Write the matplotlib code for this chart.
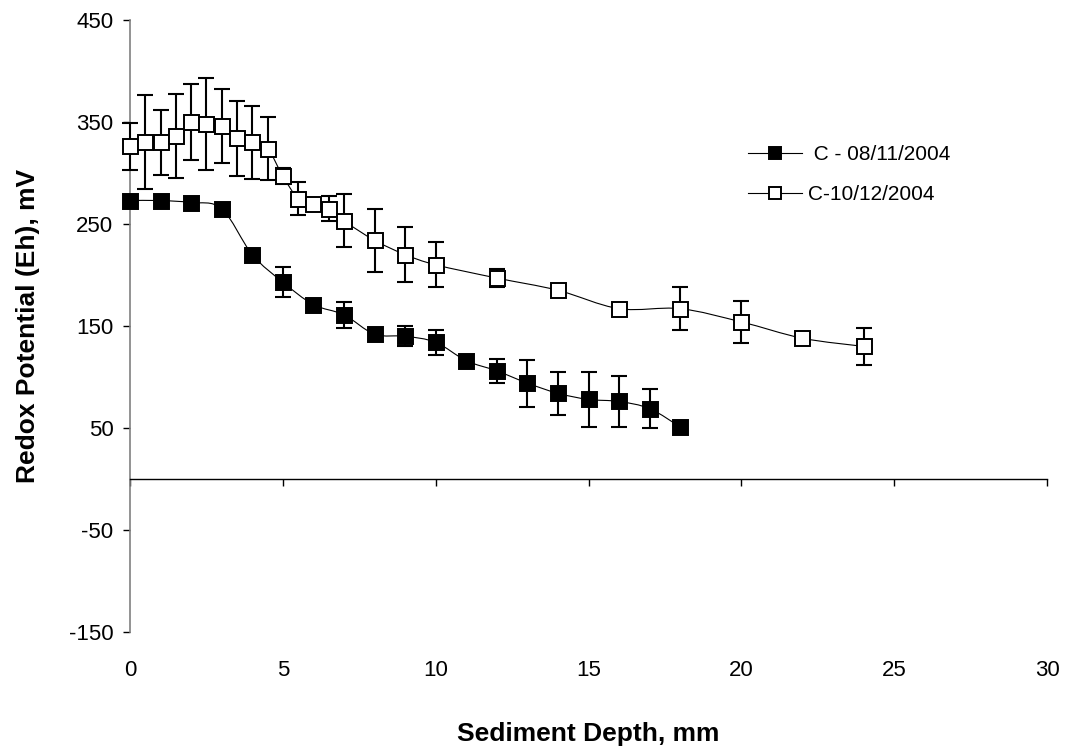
import numpy as np
import matplotlib
matplotlib.use('Agg')
import matplotlib.pyplot as plt
from matplotlib.path import Path
from matplotlib.patches import PathPatch
from matplotlib.lines import Line2D

plt.rcParams['font.family'] = ['Liberation Sans', 'DejaVu Sans']
plt.rcParams['axes.unicode_minus'] = False

# Core C, sampled 08/11/2004
depth_nov = [0, 1, 2, 3, 4, 5, 6, 7, 8, 9, 10, 11, 12, 13, 14, 15, 16, 17, 18]
eh_nov = [273, 273, 271, 265, 220, 193, 171, 161, 142, 140, 134, 116, 106, 94, 84, 78, 76, 69, 51]
err_nov = [0, 0, 0, 0, 0, 15, 0, 13, 0, 10, 12, 0, 12, 23, 21, 27, 25, 19, 0]

# Core C, sampled 10/12/2004
depth_dec = [0, 0.5, 1, 1.5, 2, 2.5, 3, 3.5, 4, 4.5, 5, 5.5, 6, 6.5, 7, 8, 9, 10,
             12, 14, 16, 18, 20, 22, 24]
eh_dec = [326, 330, 330, 336, 350, 348, 346, 334, 330, 324, 297, 275, 270, 265, 253,
          234, 220, 210, 197, 185, 167, 167, 154, 138, 130]
err_dec = [23, 46, 32, 41, 37, 45, 36, 37, 36, 31, 8, 16, 0, 12, 26, 31, 27, 22,
           9, 0, 0, 21, 21, 0, 18]

labels = [' C - 08/11/2004', 'C-10/12/2004']
x_ticks = np.arange(0, 31, 5)
y_ticks = np.arange(-150, 451, 100)

MS = 10.8


def smooth_path(x, y):
    """Bezier path through the points, spreadsheet-style smoothed line."""
    pts = np.column_stack([x, y]).astype(float)
    n = len(pts)
    verts = [pts[0]]
    codes = [Path.MOVETO]
    for i in range(n - 1):
        p0 = pts[max(i - 1, 0)]
        p1 = pts[i]
        p2 = pts[i + 1]
        p3 = pts[min(i + 2, n - 1)]
        c1 = p1 + (p2 - p0) / 6.0
        c2 = p2 - (p3 - p1) / 6.0
        verts += [c1, c2, p2]
        codes += [Path.CURVE4] * 3
    return Path(verts, codes)


def draw_series(ax, x, y, err, face):
    ax.add_patch(PathPatch(smooth_path(x, y), fill=False, edgecolor='black',
                           lw=0.8, zorder=2))
    x = np.asarray(x, float)
    y = np.asarray(y, float)
    err = np.asarray(err, float)
    m = err > 0
    eb = ax.errorbar(x[m], y[m], yerr=err[m], fmt='none', ecolor='black',
                     elinewidth=1.5, capsize=5.5, capthick=1.5, zorder=3)
    for art in eb.lines[1] + eb.lines[2]:
        art.set_clip_on(False)
    ax.plot(x, y, ls='none', marker='s', ms=MS, mfc=face, mec='black',
            mew=1.4, zorder=4, clip_on=False)


fig = plt.figure(figsize=(10.65, 7.5), dpi=100)
ax = fig.add_axes([130 / 1065, 1 - 632 / 750, 917 / 1065, 612 / 750])

draw_series(ax, depth_nov, eh_nov, err_nov, 'black')
draw_series(ax, depth_dec, eh_dec, err_dec, 'white')

ax.set_xlim(0, 30)
ax.set_ylim(-150, 450)
ax.set_yticks(y_ticks)
ax.set_xticks(x_ticks)

# x axis line crosses at Eh = 0, labels stay at the bottom
ax.spines['top'].set_visible(False)
ax.spines['right'].set_visible(False)
ax.spines['bottom'].set_position(('data', 0))
ax.spines['bottom'].set_color('black')
ax.spines['bottom'].set_linewidth(1.0)
ax.spines['left'].set_color('#808080')
ax.spines['left'].set_linewidth(1.2)
ax.tick_params(axis='x', direction='out', length=5, width=1.0, labelbottom=False)
ax.tick_params(axis='y', direction='out', length=5, width=1.0, color='black',
               labelsize=16, pad=7)

secax = ax.secondary_xaxis('bottom')
secax.set_xticks(x_ticks)
secax.spines['bottom'].set_visible(False)
secax.tick_params(length=0, labelsize=16, pad=20)
secax.set_xlabel('Sediment Depth, mm', fontsize=19, fontweight='bold', labelpad=30)

ax.set_ylabel('Redox Potential (Eh), mV', fontsize=19, fontweight='bold', labelpad=21)

handles = [
    Line2D([], [], color='black', lw=0.8, marker='s', ms=MS, mfc='black',
           mec='black', mew=1.4),
    Line2D([], [], color='black', lw=0.8, marker='s', ms=MS, mfc='white',
           mec='black', mew=1.4),
]
ax.legend(handles, labels, loc='center left', bbox_to_anchor=(0.674, 0.747),
          frameon=False, fontsize=15, markerscale=0.75, handlelength=2.6,
          handletextpad=0.3, labelspacing=1.0, borderpad=0, borderaxespad=0)

fig.savefig('out.png', dpi=100)
